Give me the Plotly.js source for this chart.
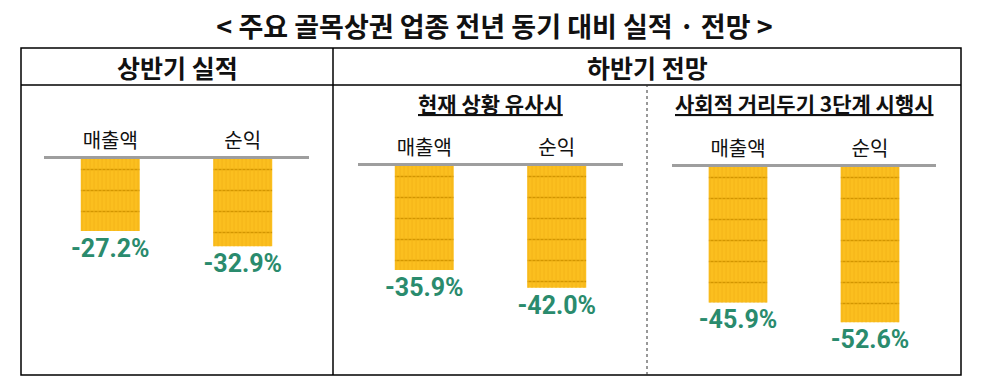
<!DOCTYPE html>
<html>
<head>
<meta charset="utf-8">
<script src="https://cdn.plot.ly/plotly-3.0.1.min.js"></script>
<style>html,body{margin:0;padding:0;background:#fff;}#chart{width:989px;height:390px;}</style>
</head>
<body>
<div id="chart"></div>
<script>
// ---- data ----
const chartTitle = '< 주요 골목상권 업종 전년 동기 대비 실적 · 전망 >';
const groupHeaders = ['상반기 실적', '하반기 전망'];
const panelTitles = ['현재 상황 유사시', '사회적 거리두기 3단계 시행시'];
const categories = ['매출액', '순익'];
const firstHalfActual = [-27.2, -32.9];
const secondHalfCurrent = [-35.9, -42.0];
const secondHalfLevel3 = [-45.9, -52.6];

// ---- styles ----
const KR = '"Noto Sans CJK KR", "Noto Sans", sans-serif';
const barGold = '#FBBF1F';
const coinEdge = '#D39600';
const stripe = '#F4B418';
const green = '#2A8B6D';

const W = 989, H = 390;
const px = v => v / W;
const py = v => 1 - v / H;

const panels = [
  {vals: firstHalfActual, xd: [44, 309], base: 159, scale: 2.65},
  {vals: secondHalfCurrent, xd: [358, 623], base: 166, scale: 2.9},
  {vals: secondHalfLevel3, xd: [672, 936], base: 167, scale: 2.95}
];
const bottomPx = 376;

const data = [];
const layout = {
  width: W, height: H,
  margin: {l: 0, r: 0, t: 0, b: 0},
  paper_bgcolor: '#fff', plot_bgcolor: 'rgba(0,0,0,0)',
  showlegend: false,
  barmode: 'overlay',
  font: {family: KR, color: '#111'},
  title: {text: '<b>' + chartTitle.replace(/</g, '&lt;').replace(/>/g, '&gt;') + '</b>',
          x: 0.5, xanchor: 'center', y: py(28), yanchor: 'middle',
          font: {family: KR, size: 27, color: '#111'}},
  shapes: [],
  annotations: []
};

panels.forEach((p, i) => {
  const n = i === 0 ? '' : String(i + 1);
  const xa = 'x' + n, ya = 'y' + n;
  data.push({
    type: 'bar', x: categories, y: p.vals, xaxis: xa, yaxis: ya, width: 0.445,
    marker: {color: barGold, line: {width: 0},
             pattern: {shape: '-', size: 21, solidity: 0.07, fgcolor: coinEdge, bgcolor: barGold}},
    texttemplate: '<b>%{y:.1f}%</b>', textposition: 'outside', constraintext: 'none', cliponaxis: false,
    textfont: {family: 'Roboto, "Noto Sans", sans-serif', size: 25, color: green},
    hoverinfo: 'skip'
  });
  data.push({
    type: 'bar', x: categories, y: p.vals, xaxis: xa, yaxis: ya, width: 0.445,
    marker: {color: 'rgba(0,0,0,0)', line: {width: 0},
             pattern: {shape: '|', size: 4, solidity: 0.25, fgcolor: stripe, bgcolor: 'rgba(0,0,0,0)'}},
    hoverinfo: 'skip'
  });
  const range = (bottomPx - p.base) / p.scale;
  layout['xaxis' + n] = {
    domain: [px(p.xd[0]), px(p.xd[1])], anchor: ya, side: 'top', type: 'category',
    range: [-0.5, 1.5], showline: true, linecolor: '#9E9E9E', linewidth: 3,
    ticks: '', showgrid: false, zeroline: false, fixedrange: true,
    tickfont: {family: KR, size: 20, color: '#111'}
  };
  layout['yaxis' + n] = {
    domain: [py(bottomPx), py(p.base)], anchor: xa, range: [-range, 0],
    visible: false, fixedrange: true
  };
});

// table frame
const lineStyle = {color: '#000', width: 1.5};
layout.shapes.push(
  {type: 'rect', xref: 'paper', yref: 'paper', x0: px(21), x1: px(961), y0: py(375), y1: py(48), line: lineStyle},
  {type: 'line', xref: 'paper', yref: 'paper', x0: px(21), x1: px(961), y0: py(85), y1: py(85), line: lineStyle},
  {type: 'line', xref: 'paper', yref: 'paper', x0: px(333), x1: px(333), y0: py(375), y1: py(48), line: lineStyle},
  {type: 'line', xref: 'paper', yref: 'paper', x0: px(647), x1: px(647), y0: py(375), y1: py(85), line: {color: '#333', width: 1, dash: 'dot'}}
);

// headers
layout.annotations.push(
  {text: '<b>' + groupHeaders[0] + '</b>', xref: 'paper', yref: 'paper', x: px(177), y: py(67), showarrow: false,
   xanchor: 'center', yanchor: 'middle', font: {family: KR, size: 25, color: '#111'}},
  {text: '<b>' + groupHeaders[1] + '</b>', xref: 'paper', yref: 'paper', x: px(647), y: py(67), showarrow: false,
   xanchor: 'center', yanchor: 'middle', font: {family: KR, size: 25, color: '#111'}},
  {text: '<b><u>' + panelTitles[0] + '</u></b>', xref: 'paper', yref: 'paper', x: px(490), y: py(103), showarrow: false,
   xanchor: 'center', yanchor: 'middle', font: {family: KR, size: 21, color: '#111'}},
  {text: '<b><u>' + panelTitles[1] + '</u></b>', xref: 'paper', yref: 'paper', x: px(804), y: py(103), showarrow: false,
   xanchor: 'center', yanchor: 'middle', font: {family: KR, size: 21, color: '#111'}}
);

Plotly.newPlot('chart', data, layout, {staticPlot: true, displayModeBar: false});
</script>
</body>
</html>
